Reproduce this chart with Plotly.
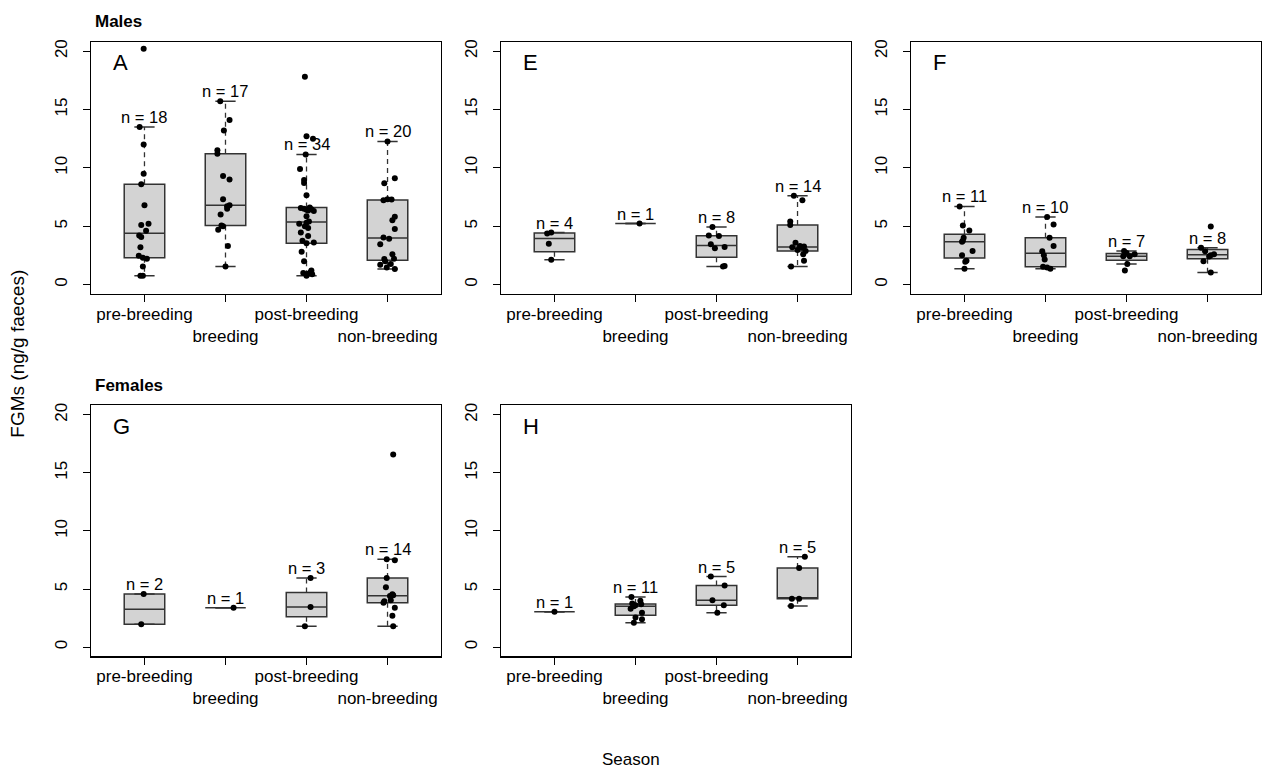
import math
import plotly.graph_objects as go

# ---------------- data ----------------
CATEGORIES = ["pre-breeding", "breeding", "post-breeding", "non-breeding"]
TICK_TEXT = ["pre-breeding", "<br>breeding", "post-breeding", "<br>non-breeding"]
Y_TICKS = [0, 5, 10, 15, 20]

# Males, panel A
A_vals = [
    [0.76, 0.76, 1.55, 2.2, 2.3, 2.46, 3.2, 4.07, 4.2, 4.6, 5.1, 5.2, 6.8, 8.6, 9.5, 12.0, 13.5, 20.2],
    [1.55, 3.3, 4.7, 5.0, 5.06, 6.0, 6.5, 6.7, 6.8, 7.3, 9.0, 9.3, 11.2, 11.5, 13.2, 14.1, 15.7],
    [0.76, 0.88, 0.92, 0.99, 1.05, 1.2, 2.0, 2.8, 3.53, 3.6, 3.75, 4.15, 4.45, 4.85, 5.0, 5.2, 5.3,
     5.4, 5.85, 6.3, 6.35, 6.4, 6.45, 6.5, 6.55, 6.6, 7.65, 8.7, 8.96, 9.9, 11.15, 12.5, 12.7, 17.8],
    [1.33, 1.45, 1.7, 1.75, 2.0, 2.18, 2.2, 2.6, 3.45, 3.93, 4.03, 4.77, 5.5, 5.8, 7.22, 7.28, 7.3,
     8.67, 9.1, 12.26],
]
A_jit = [
    [-0.05, -0.02, -0.02, 0.03, -0.02, -0.07, -0.05, -0.04, -0.065, 0.02, -0.04, 0.05, 0.0, -0.04, -0.01, -0.01, -0.06, -0.01],
    [0.0, 0.03, -0.09, -0.03, -0.05, -0.06, 0.02, 0.02, 0.05, -0.03, 0.05, -0.03, -0.1, -0.1, -0.02, 0.05, -0.065],
    [0.0, 0.07, 0.02, -0.04, 0.05, 0.06, -0.03, -0.06, 0.0, 0.09, -0.05, 0.02, -0.07, 0.02, -0.02, -0.09, 0.0,
     0.03, 0.0, 0.09, 0.02, 0.0, 0.06, -0.03, -0.07, 0.04, 0.0, -0.03, -0.03, -0.08, -0.01, 0.08, 0.0, -0.02],
    [0.09, -0.01, -0.09, 0.04, -0.03, -0.04, 0.08, 0.06, -0.09, 0.02, -0.05, 0.09, 0.06, 0.09, -0.05, 0.05, 0.0,
     -0.04, 0.09, 0.0],
]

# Males, panel E
E_vals = [
    [2.12, 3.5, 4.38, 4.45],
    [5.23],
    [1.55, 1.58, 3.1, 3.22, 3.45, 4.15, 4.2, 4.94],
    [1.55, 2.03, 2.6, 2.88, 2.97, 3.15, 3.2, 3.25, 3.3, 3.59, 5.1, 5.4, 7.23, 7.6],
]
E_jit = [
    [-0.04, -0.07, -0.09, -0.04],
    [0.05],
    [0.08, 0.1, -0.02, 0.1, -0.07, 0.03, -0.095, -0.05],
    [-0.08, 0.08, 0.07, 0.1, 0.0, 0.06, -0.065, 0.08, 0.03, -0.025, -0.09, -0.09, 0.06, -0.045],
]

# Males, panel F
F_vals = [
    [1.36, 1.95, 2.03, 2.51, 2.88, 3.67, 3.75, 4.0, 4.63, 5.06, 6.69],
    [1.36, 1.45, 1.52, 2.15, 2.5, 2.85, 3.3, 4.0, 5.14, 5.79],
    [1.2, 1.76, 2.42, 2.42, 2.6, 2.7, 2.88],
    [1.04, 2.0, 2.4, 2.5, 2.6, 2.85, 3.15, 4.97],
]
F_jit = [
    [0.0, 0.01, 0.025, -0.03, 0.1, -0.03, -0.02, -0.01, 0.06, -0.02, -0.06],
    [0.06, 0.02, -0.03, -0.01, -0.02, -0.04, 0.1, 0.05, 0.1, 0.02],
    [-0.02, 0.01, -0.04, 0.04, 0.1, 0.0, -0.03],
    [0.04, -0.05, 0.02, 0.04, 0.08, -0.03, -0.08, 0.04],
]

# Females, panel G
G_vals = [
    [1.96, 4.57],
    [3.4],
    [1.79, 3.46, 5.96],
    [1.79, 2.7, 3.38, 3.83, 3.95, 4.03, 4.4, 4.46, 4.55, 5.16, 5.96, 7.47, 7.57, 16.57],
]
G_jit = [
    [-0.04, -0.01],
    [0.1],
    [-0.02, 0.05, 0.05],
    [0.07, 0.06, 0.09, -0.05, -0.04, 0.04, 0.03, 0.07, 0.06, -0.02, -0.01, 0.09, -0.01, 0.07],
]

# Females, panel H
H_vals = [
    [3.04],
    [2.1, 2.4, 2.55, 2.95, 3.3, 3.52, 3.6, 3.68, 3.76, 4.0, 4.31],
    [2.95, 3.6, 4.03, 5.3, 6.07],
    [3.55, 4.17, 4.17, 6.81, 7.77],
]
H_jit = [
    [0.0],
    [-0.02, 0.08, 0.0, 0.08, -0.06, -0.02, 0.0, 0.07, -0.04, 0.06, -0.05],
    [0.01, 0.09, -0.05, 0.1, -0.07],
    [-0.08, -0.07, 0.02, 0.02, 0.09],
]

# ---------------- helpers ----------------
def fivenum(x):
    xs = sorted(x)
    n = len(xs)
    n4 = math.floor((n + 3) / 2) / 2
    d = [1, n4, (n + 1) / 2, n + 1 - n4, n]
    return [0.5 * (xs[math.floor(di) - 1] + xs[math.ceil(di) - 1]) for di in d]


def box_stats(x, coef=1.5):
    mn, q1, med, q3, mx = fivenum(x)
    iqr = q3 - q1
    lo = min(v for v in x if v >= q1 - coef * iqr)
    hi = max(v for v in x if v <= q3 + coef * iqr)
    return q1, med, q3, lo, hi


W, H = 1263, 769
X_DOM = [(91, 441), (501, 851), (911, 1261)]
Y_DOM = [(39, 292), (404, 656)]
BOX_W = 0.5
CAP_W = 0.25
FONT = "Liberation Sans, Arial, sans-serif"
BOX_LINE = "#333333"

panels = [
    ("A", A_vals, A_jit, 0, 0),
    ("E", E_vals, E_jit, 0, 1),
    ("F", F_vals, F_jit, 0, 2),
    ("G", G_vals, G_jit, 1, 0),
    ("H", H_vals, H_jit, 1, 1),
]

fig = go.Figure()
annotations = []
layout_axes = {}

for i, (letter, vals, jits, r, c) in enumerate(panels):
    k = i + 1
    xname = "x" if k == 1 else f"x{k}"
    yname = "y" if k == 1 else f"y{k}"
    pos = [1, 2, 3, 4]
    stats = [box_stats(v) for v in vals]
    q1 = [s[0] for s in stats]
    med = [s[1] for s in stats]
    q3 = [s[2] for s in stats]

    fig.add_trace(go.Box(
        x=pos, q1=q1, median=med, q3=q3, lowerfence=q1, upperfence=q3,
        width=BOX_W, whiskerwidth=0, fillcolor="#d3d3d3",
        line=dict(color=BOX_LINE, width=1.5), boxpoints=False,
        hoverinfo="skip", xaxis=xname, yaxis=yname, showlegend=False,
    ))

    # dashed whiskers and solid staples
    wx, wy, cx, cy = [], [], [], []
    for p, s in zip(pos, stats):
        sq1, _, sq3, lo, hi = s
        if hi > sq3:
            wx += [p, p, None]; wy += [sq3, hi, None]
        if lo < sq1:
            wx += [p, p, None]; wy += [sq1, lo, None]
        cx += [p - CAP_W / 2, p + CAP_W / 2, None, p - CAP_W / 2, p + CAP_W / 2, None]
        cy += [hi, hi, None, lo, lo, None]
    fig.add_trace(go.Scatter(x=wx, y=wy, mode="lines",
                             line=dict(color=BOX_LINE, width=1.3, dash="5px,4px"),
                             hoverinfo="skip", xaxis=xname, yaxis=yname, showlegend=False))
    fig.add_trace(go.Scatter(x=cx, y=cy, mode="lines",
                             line=dict(color=BOX_LINE, width=1.5),
                             hoverinfo="skip", xaxis=xname, yaxis=yname, showlegend=False))

    # jittered points
    px, py = [], []
    for p, v, j in zip(pos, vals, jits):
        for val, jj in zip(v, j):
            px.append(p + jj)
            py.append(val)
    fig.add_trace(go.Scatter(x=px, y=py, mode="markers",
                             marker=dict(color="black", size=6),
                             hoverinfo="skip", xaxis=xname, yaxis=yname, showlegend=False))

    # n labels
    for p, v, s in zip(pos, vals, stats):
        annotations.append(dict(
            x=p, y=s[4], xref=xname, yref=yname, text=f"n = {len(v)}",
            showarrow=False, yshift=10, yanchor="middle", xanchor="center",
            font=dict(size=16.5, color="black", family=FONT)))

    # panel letter
    annotations.append(dict(
        x=20 / 350, y=1 - 21 / 253, xref=f"{xname} domain", yref=f"{yname} domain",
        text=letter, showarrow=False, xanchor="left", yanchor="middle",
        font=dict(size=22, color="black", family=FONT)))

    x0, x1 = X_DOM[c]
    y0, y1 = Y_DOM[r]
    layout_axes["xaxis" if k == 1 else f"xaxis{k}"] = dict(
        domain=[x0 / W, x1 / W], range=[0.34, 4.66], anchor=yname,
        tickmode="array", tickvals=pos, ticktext=TICK_TEXT, tickangle=0,
        ticks="outside", ticklen=7, tickwidth=1, tickcolor="black",
        ticklabelstandoff=-3,
        showline=True, linecolor="black", linewidth=1.3, mirror=True,
        showgrid=False, zeroline=False, fixedrange=True,
        tickfont=dict(size=17, color="black", family=FONT),
    )
    layout_axes["yaxis" if k == 1 else f"yaxis{k}"] = dict(
        domain=[1 - y1 / H, 1 - y0 / H], range=[-0.8, 20.8], anchor=xname,
        tickmode="array", tickvals=Y_TICKS, ticktext=[str(t) for t in Y_TICKS],
        ticks="outside", ticklen=7, tickwidth=1, tickcolor="black", tickangle=-90,
        ticklabelstandoff=9,
        showline=True, linecolor="black", linewidth=1.3, mirror=True,
        showgrid=False, zeroline=False, fixedrange=True,
        tickfont=dict(size=17, color="black", family=FONT),
    )

# figure-level text
annotations += [
    dict(x=93 / W, y=1 - 19 / H, xref="paper", yref="paper", text="<b>Males</b>",
         showarrow=False, xanchor="left", yanchor="middle",
         font=dict(size=17, color="black", family=FONT)),
    dict(x=93 / W, y=1 - 384 / H, xref="paper", yref="paper", text="<b>Females</b>",
         showarrow=False, xanchor="left", yanchor="middle",
         font=dict(size=17, color="black", family=FONT)),
    dict(x=18 / W, y=1 - 352 / H, xref="paper", yref="paper", text="FGMs (ng/g faeces)",
         showarrow=False, textangle=-90, xanchor="center", yanchor="middle",
         font=dict(size=19, color="black", family=FONT)),
    dict(x=631 / W, y=1 - 759 / H, xref="paper", yref="paper", text="Season",
         showarrow=False, xanchor="center", yanchor="middle",
         font=dict(size=17, color="black", family=FONT)),
]

fig.update_layout(
    width=W, height=H, margin=dict(l=0, r=0, t=0, b=0),
    paper_bgcolor="white", plot_bgcolor="white", showlegend=False,
    boxmode="overlay", annotations=annotations, hovermode=False, **layout_axes,
)

fig.write_html(
    "out.html",
    config={"displayModeBar": False, "staticPlot": True},
    post_script="document.body.style.margin='0px';document.body.style.overflow='hidden';",
)
